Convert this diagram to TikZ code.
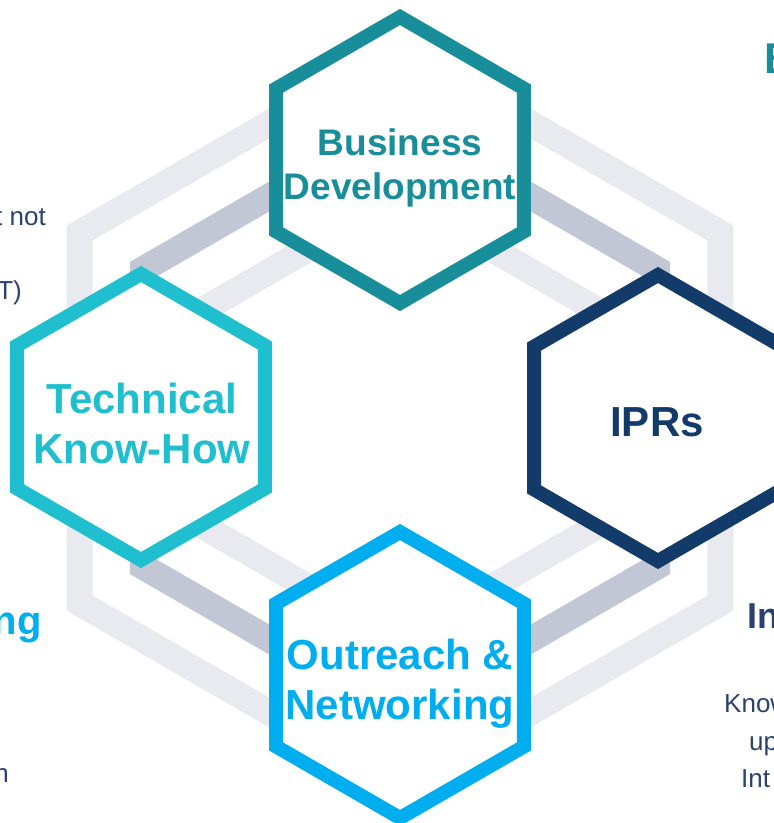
\documentclass[tikz,border=0pt]{standalone}
\usepackage{fontspec}
\setmainfont{Liberation Sans}
\usetikzlibrary{shapes.geometric, positioning}

\definecolor{bandlight}{HTML}{E9EAF0}
\definecolor{banddark}{HTML}{C2C7D6}
\definecolor{bizteal}{HTML}{178E9A}
\definecolor{techcyan}{HTML}{1FBFD0}
\definecolor{iprnavy}{HTML}{133B6A}
\definecolor{outsky}{HTML}{00AEEF}
\definecolor{sidenavy}{HTML}{2B4170}

\begin{document}
\begin{tikzpicture}[
    x=1pt, y=-1pt,
    ring/.style={regular polygon, regular polygon sides=6, shape border rotate=30, draw, line width=26pt, inner sep=0pt},
    hexbox/.style={regular polygon, regular polygon sides=6, shape border rotate=30, draw, fill=white, line width=14pt, inner sep=0pt, minimum size=286pt},
    hextext/.style={align=center, font=\bfseries\fontsize{42}{50}\selectfont, inner sep=0pt},
    sidetext/.style={inner sep=0pt, text=sidenavy, font=\fontsize{26}{37}\selectfont}
]
\useasboundingbox (0,0) rectangle (774,823);
\clip (0,0) rectangle (774,823);

% Background rings
\node[ring, draw=bandlight, minimum size=740pt] (outer) at (400,418) {};
\node[ring, draw=banddark, minimum size=594pt] (middle) at (400,418) {};
\node[ring, draw=bandlight, minimum size=444pt] (inner) at (400,418) {};

% Hexagons
\node[hexbox, draw=bizteal] (bizhex) at (400,160) {};
\node[hexbox, draw=techcyan] (techhex) at (141,417) {};
\node[hexbox, draw=iprnavy] (iprhex) at (658,418) {};
\node[hexbox, draw=outsky] (outhex) at (400,675) {};

% Hexagon labels
\node[hextext, text=bizteal, font=\bfseries\fontsize{37}{44}\selectfont] (biz) at (400,168) {Business\\Development};
\node[hextext, text=techcyan] (tech) at (142,423) {Technical\\Know-How};
\node[hextext, text=iprnavy] (ipr) at (657,422) {IPRs};
\node[hextext, text=outsky] (out) at (400,684) {Outreach \&\\Networking};

% Text of the neighbouring columns, cut by the page edge
\node[sidetext, anchor=base east] (leftone) at (46,225) {t not};
\node[sidetext, anchor=base east] (lefttwo) at (22,299) {T)};
\node[inner sep=0pt, anchor=base east, text=outsky, font=\bfseries\fontsize{40}{44}\selectfont] (lefthead) at (42,634) {ng};
\node[sidetext, anchor=base east] (leftthree) at (9,782) {n};
\node[inner sep=0pt, anchor=base west, text=bizteal, font=\bfseries\fontsize{43}{48}\selectfont] (righttop) at (764,73) {B};
\node[inner sep=0pt, anchor=base west, text=sidenavy, font=\bfseries\fontsize{36}{40}\selectfont] (righthead) at (747,628) {In};
\node[sidetext, anchor=base west] (rightone) at (724,712) {Know};
\node[sidetext, anchor=base west] (righttwo) at (749,750) {up};
\node[sidetext, anchor=base west] (rightthree) at (741,787) {Int};

\end{tikzpicture}
\end{document}
